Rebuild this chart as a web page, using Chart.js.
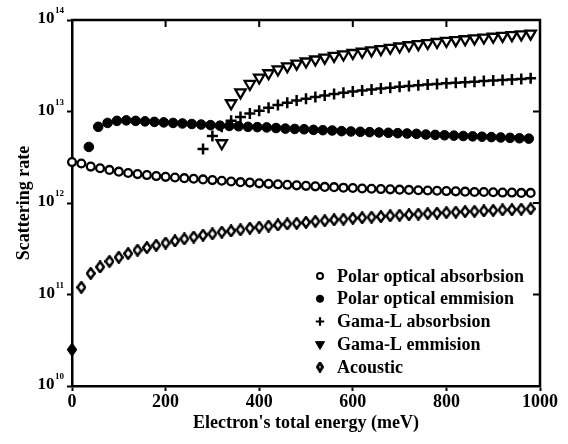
<!DOCTYPE html>
<html>
<head>
<meta charset="utf-8">
<title>Scattering rate</title>
<script src="https://cdn.jsdelivr.net/npm/chart.js@4.4.1/dist/chart.umd.min.js"></script>
<style>
  html, body { margin: 0; padding: 0; background: #fff; }
  #wrap { width: 568px; height: 444px; }
</style>
</head>
<body>
<div id="wrap"><canvas id="myChart" width="568" height="444"></canvas></div>
<script>
// energies (meV)
const energyGrid = [0, 20, 40, 60, 80, 100, 120, 140, 160, 180, 200, 220, 240, 260, 280, 300, 320, 340, 360, 380,
  400, 420, 440, 460, 480, 500, 520, 540, 560, 580, 600, 620, 640, 660, 680, 700, 720, 740, 760, 780,
  800, 820, 840, 860, 880, 900, 920, 940, 960, 980];
const polarEmEnergy = [36, 56, 76, 96, 116, 136, 156, 176, 196, 216, 236, 256, 276, 296, 316, 336, 356, 376, 396, 416,
  436, 456, 476, 496, 516, 536, 556, 576, 596, 616, 636, 656, 676, 696, 716, 736, 756, 776, 796, 816,
  836, 856, 876, 896, 916, 936, 956, 976];
const gamaLAbsEnergy = [280, 300, 320, 340, 360, 380, 400, 420, 440, 460, 480, 500, 520, 540, 560, 580, 600, 620,
  640, 660, 680, 700, 720, 740, 760, 780, 800, 820, 840, 860, 880, 900, 920, 940, 960, 980];
const gamaLEmEnergy = [320, 340, 360, 380, 400, 420, 440, 460, 480, 500, 520, 540, 560, 580, 600, 620, 640,
  660, 680, 700, 720, 740, 760, 780, 800, 820, 840, 860, 880, 900, 920, 940, 960, 980];

// scattering rates (1/s)
const polarAbsRate = [2.8e12, 2.7e12, 2.5e12, 2.4e12, 2.3e12, 2.2e12, 2.13e12, 2.07e12, 2.02e12, 1.97e12,
  1.93e12, 1.9e12, 1.87e12, 1.84e12, 1.81e12, 1.78e12, 1.75e12, 1.72e12, 1.69e12, 1.67e12,
  1.64e12, 1.62e12, 1.6e12, 1.58e12, 1.56e12, 1.54e12, 1.52e12, 1.5e12, 1.49e12, 1.47e12,
  1.46e12, 1.44e12, 1.43e12, 1.42e12, 1.41e12, 1.4e12, 1.39e12, 1.38e12, 1.37e12, 1.36e12,
  1.35e12, 1.34e12, 1.33e12, 1.32e12, 1.32e12, 1.31e12, 1.3e12, 1.3e12, 1.29e12, 1.29e12];
const polarEmRate = [4.1e12, 6.8e12, 7.5e12, 7.9e12, 8.0e12, 7.9e12, 7.8e12, 7.7e12, 7.6e12, 7.5e12,
  7.4e12, 7.3e12, 7.2e12, 7.1e12, 7.0e12, 6.95e12, 6.9e12, 6.8e12, 6.75e12, 6.7e12,
  6.6e12, 6.5e12, 6.45e12, 6.4e12, 6.3e12, 6.25e12, 6.2e12, 6.1e12, 6.05e12, 6.0e12,
  5.95e12, 5.9e12, 5.85e12, 5.8e12, 5.75e12, 5.7e12, 5.6e12, 5.55e12, 5.5e12, 5.45e12,
  5.4e12, 5.35e12, 5.3e12, 5.25e12, 5.2e12, 5.15e12, 5.1e12, 5.05e12];
const gamaLAbsRate = [3.9e12, 5.4e12, 6.8e12, 7.9e12, 8.7e12, 9.5e12, 1.02e13, 1.1e13, 1.18e13, 1.25e13,
  1.32e13, 1.38e13, 1.44e13, 1.5e13, 1.55e13, 1.6e13, 1.65e13, 1.7e13, 1.74e13, 1.78e13,
  1.82e13, 1.86e13, 1.9e13, 1.93e13, 1.97e13, 2.0e13, 2.03e13, 2.06e13, 2.09e13, 2.12e13,
  2.15e13, 2.18e13, 2.21e13, 2.24e13, 2.27e13, 2.31e13];
const gamaLEmRate = [4.5e12, 1.23e13, 1.62e13, 2.0e13, 2.35e13, 2.62e13, 2.88e13, 3.12e13, 3.33e13, 3.52e13,
  3.7e13, 3.88e13, 4.05e13, 4.2e13, 4.36e13, 4.5e13, 4.65e13, 4.8e13, 4.97e13, 5.13e13,
  5.3e13, 5.45e13, 5.6e13, 5.75e13, 5.9e13, 6.03e13, 6.16e13, 6.3e13, 6.43e13, 6.56e13,
  6.7e13, 6.83e13, 6.96e13, 7.1e13];
const acousticRate = [2.5e10, 1.2e11, 1.7e11, 2.0e11, 2.3e11, 2.55e11, 2.8e11, 3.05e11, 3.25e11, 3.45e11,
  3.65e11, 3.85e11, 4.05e11, 4.25e11, 4.45e11, 4.6e11, 4.8e11, 4.95e11, 5.1e11, 5.3e11,
  5.45e11, 5.6e11, 5.75e11, 5.9e11, 6.0e11, 6.15e11, 6.3e11, 6.4e11, 6.55e11, 6.65e11,
  6.8e11, 6.9e11, 7.0e11, 7.1e11, 7.25e11, 7.35e11, 7.45e11, 7.55e11, 7.65e11, 7.75e11,
  7.85e11, 7.95e11, 8.05e11, 8.1e11, 8.2e11, 8.3e11, 8.4e11, 8.45e11, 8.55e11, 8.65e11];

const seriesNames = ['Polar optical absorbsion', 'Polar optical emmision', 'Gama-L absorbsion', 'Gama-L emmision', 'Acoustic'];
const xTicks = [0, 200, 400, 600, 800, 1000];
const yPowers = [10, 11, 12, 13, 14];

const serif = "'Liberation Serif', 'Times New Roman', serif";
Chart.defaults.font.family = serif;
Chart.defaults.color = '#000';

const toPoints = (xs, ys) => xs.map((x, i) => ({ x: x, y: ys[i] }));

// tall diamond marker, drawn once on a small canvas
function makeDiamond(w, h, fill, lw) {
  const c = document.createElement('canvas');
  c.width = w;
  c.height = h;
  const g = c.getContext('2d');
  g.beginPath();
  g.moveTo(w / 2, lw / 2);
  g.lineTo(w - lw / 2, h / 2);
  g.lineTo(w / 2, h - lw / 2);
  g.lineTo(lw / 2, h / 2);
  g.closePath();
  g.fillStyle = fill;
  g.fill();
  g.lineWidth = lw;
  g.strokeStyle = '#000';
  g.stroke();
  return c;
}
const diamondOpen = makeDiamond(10, 13, '#fff', 2.4);
const diamondFull = makeDiamond(10, 13, '#000', 2.4);
const diamondLegend = makeDiamond(8, 11, '#fff', 2.8);

const datasets = [
  {
    label: seriesNames[0],
    data: toPoints(energyGrid, polarAbsRate),
    pointStyle: 'circle', pointRadius: 3.9, pointBorderWidth: 2.3,
    pointBackgroundColor: '#fff', pointBorderColor: '#000'
  },
  {
    label: seriesNames[1],
    data: toPoints(polarEmEnergy, polarEmRate),
    pointStyle: 'circle', pointRadius: 4.8, pointBorderWidth: 1,
    pointBackgroundColor: '#000', pointBorderColor: '#000'
  },
  {
    label: seriesNames[2],
    data: toPoints(gamaLAbsEnergy, gamaLAbsRate),
    pointStyle: 'cross', pointRadius: 5.5, pointBorderWidth: 2.5,
    pointBorderColor: '#000'
  },
  {
    label: seriesNames[3],
    data: toPoints(gamaLEmEnergy, gamaLEmRate),
    pointStyle: 'triangle', pointRotation: 180, pointRadius: 6, pointBorderWidth: 2.3,
    pointBackgroundColor: '#fff', pointBorderColor: '#000'
  },
  {
    label: seriesNames[4],
    data: toPoints(energyGrid, acousticRate),
    pointStyle: (ctx) => ctx.dataIndex === 0 ? diamondFull : diamondOpen,
    pointRadius: 5
  }
];
datasets.forEach(d => { d.showLine = false; d.clip = false; });

const legendMarks = [
  { pointStyle: 'circle', radius: 3, borderWidth: 2, fill: '#fff' },
  { pointStyle: 'circle', radius: 3.6, borderWidth: 1, fill: '#000' },
  { pointStyle: 'cross', radius: 4.2, borderWidth: 2.2, fill: '#000' },
  { pointStyle: 'triangle', rotation: 180, radius: 5.2, borderWidth: 1, fill: '#000' },
  { pointStyle: diamondLegend, radius: 4, borderWidth: 0, fill: '#000' }
];

const framePlugin = {
  id: 'frame',
  afterDraw(chart) {
    const { ctx, chartArea: a, scales } = chart;
    const xs = scales.x, ys = scales.y;
    ctx.save();
    ctx.strokeStyle = '#000';

    // top and right axis lines with inward ticks
    ctx.lineWidth = 2.5;
    ctx.beginPath();
    ctx.moveTo(a.left - 1, a.top);
    ctx.lineTo(a.right, a.top);
    ctx.lineTo(a.right, a.bottom + 1);
    ctx.stroke();
    ctx.lineWidth = 2;
    ctx.beginPath();
    xTicks.slice(1, -1).forEach(v => {
      const px = xs.getPixelForValue(v);
      ctx.moveTo(px, a.top);
      ctx.lineTo(px, a.top + 7);
    });
    yPowers.slice(1, -1).forEach(p => {
      const py = ys.getPixelForValue(Math.pow(10, p));
      ctx.moveTo(a.right, py);
      ctx.lineTo(a.right - 7, py);
    });
    ctx.stroke();

    // y tick labels as 10 with superscript power
    ctx.fillStyle = '#000';
    ctx.textBaseline = 'alphabetic';
    ctx.textAlign = 'left';
    yPowers.forEach(p => {
      const py = ys.getPixelForValue(Math.pow(10, p));
      ctx.font = 'bold 9px ' + serif;
      const supW = ctx.measureText(String(p)).width;
      ctx.font = 'bold 17px ' + serif;
      const baseW = ctx.measureText('10').width;
      const xEnd = 64;
      ctx.fillText('10', xEnd - supW - baseW - 0.5, py + 3);
      ctx.font = 'bold 9px ' + serif;
      ctx.fillText(String(p), xEnd - supW, py - 7);
    });

    // legend inside the plot
    const lx = a.right - 220;
    const ly = a.bottom - 110;
    ctx.font = 'bold 18px ' + serif;
    ctx.textBaseline = 'middle';
    seriesNames.forEach((name, i) => {
      const m = legendMarks[i];
      const y = ly + i * 22.75;
      ctx.fillStyle = m.fill;
      ctx.strokeStyle = '#000';
      ctx.lineWidth = m.borderWidth;
      Chart.helpers.drawPoint(ctx, m, lx, y);
      ctx.fillStyle = '#000';
      ctx.fillText(name, lx + 17, y + 1);
    });
    ctx.restore();
  }
};

const config = {
  type: 'scatter',
  data: { datasets: datasets },
  options: {
    responsive: false,
    animation: false,
    layout: { padding: { top: 20, right: 28, left: 0, bottom: 0 } },
    plugins: {
      legend: { display: false },
      tooltip: { enabled: false }
    },
    scales: {
      x: {
        type: 'linear',
        min: 0,
        max: 1000,
        afterBuildTicks: (scale) => { scale.ticks = xTicks.map(v => ({ value: v })); },
        afterFit: (scale) => { scale.height = 58; },
        border: { display: true, color: '#000', width: 2.5 },
        grid: { display: true, drawOnChartArea: false, tickLength: 5, tickWidth: 2, tickColor: '#000' },
        ticks: {
          font: { size: 18, weight: 'bold' }, color: '#000', padding: 1, maxRotation: 0,
          callback: (v) => String(v)
        },
        title: {
          display: true,
          text: "Electron's total energy (meV)",
          font: { size: 18, weight: 'bold' },
          color: '#000',
          padding: { top: 0, bottom: 10 }
        }
      },
      y: {
        type: 'logarithmic',
        min: 1e10,
        max: 1e14,
        afterBuildTicks: (scale) => { scale.ticks = yPowers.map(p => ({ value: Math.pow(10, p), major: true })); },
        afterFit: (scale) => { scale.width = 72; },
        border: { display: true, color: '#000', width: 2.5 },
        grid: { display: true, drawOnChartArea: false, tickLength: 5, tickWidth: 2, tickColor: '#000' },
        ticks: { display: false },
        title: {
          display: true,
          text: 'Scattering rate',
          font: { size: 18, weight: 'bold' },
          color: '#000',
          padding: { top: 14, bottom: 0 }
        }
      }
    }
  },
  plugins: [framePlugin]
};

const myChart = new Chart(document.getElementById('myChart'), config);
</script>
</body>
</html>
